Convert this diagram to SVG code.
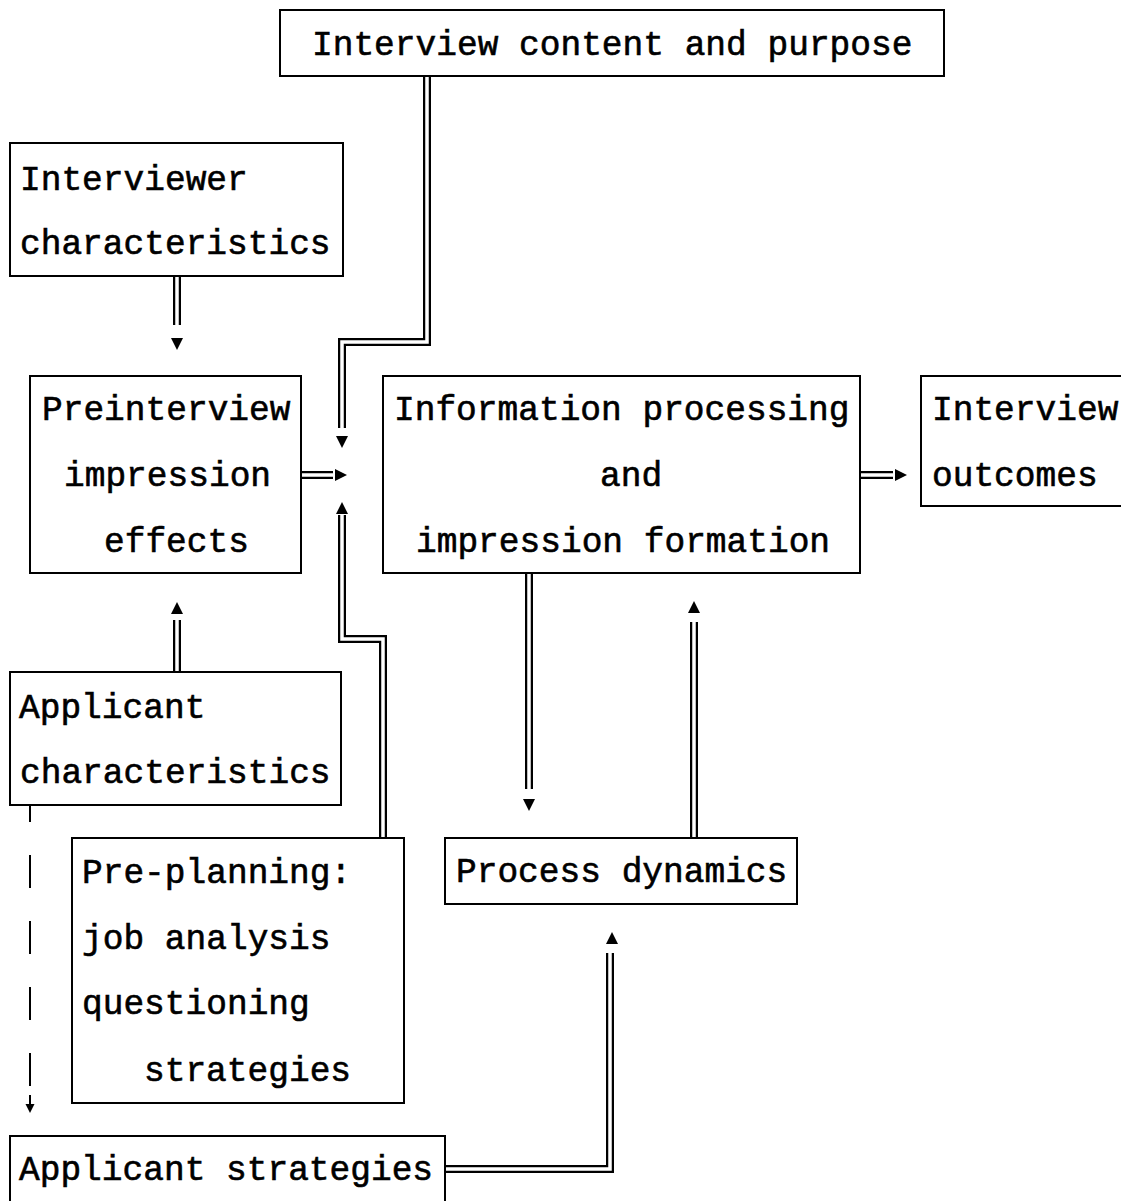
<svg xmlns="http://www.w3.org/2000/svg" xmlns:xlink="http://www.w3.org/1999/xlink" width="1121" height="1201" viewBox="0 0 1121 1201">
<style>
.box{fill:#fff;stroke:#000;stroke-width:2}
.t{font-family:"Liberation Mono","Courier New",monospace;font-size:34.5px;fill:#000;stroke:#000;stroke-width:0.6}
.o{fill:none;stroke:#000;stroke-width:8;stroke-linejoin:miter}
.i{fill:none;stroke:#fff;stroke-width:3.5;stroke-linejoin:miter}
.dash{fill:none;stroke:#000;stroke-width:2}
</style>
<defs>
<path id="ah" d="M-6,0 L6,0 L0,12 Z" fill="#000"/>
<path id="c1" d="M427,76 V342 H342 V428"/>
<path id="c2" d="M383,838 V639 H342 V515"/>
<path id="c3" d="M301,475 H333"/>
<path id="c4" d="M177,276 V325"/>
<path id="c5" d="M177,672 V620"/>
<path id="c6" d="M529,573 V789"/>
<path id="c7" d="M694,838 V622"/>
<path id="c8" d="M445,1169 H610 V953"/>
<path id="c9" d="M860,475 H893"/>
</defs>
<rect width="1121" height="1201" fill="#fff"/>
<g id="connectors">
<use href="#c1" class="o"/><use href="#c1" class="i"/>
<use href="#c2" class="o"/><use href="#c2" class="i"/>
<use href="#c3" class="o"/><use href="#c3" class="i"/>
<use href="#c4" class="o"/><use href="#c4" class="i"/>
<use href="#c5" class="o"/><use href="#c5" class="i"/>
<use href="#c6" class="o"/><use href="#c6" class="i"/>
<use href="#c7" class="o"/><use href="#c7" class="i"/>
<use href="#c8" class="o"/><use href="#c8" class="i"/>
<use href="#c9" class="o"/><use href="#c9" class="i"/>
<use href="#ah" transform="translate(342,436)"/>
<use href="#ah" transform="translate(342,514) rotate(180)"/>
<use href="#ah" transform="translate(335,475) rotate(-90)"/>
<use href="#ah" transform="translate(177,338)"/>
<use href="#ah" transform="translate(177,614) rotate(180)"/>
<use href="#ah" transform="translate(529,799)"/>
<use href="#ah" transform="translate(694,613) rotate(180)"/>
<use href="#ah" transform="translate(612,944) rotate(180)"/>
<use href="#ah" transform="translate(895,475) rotate(-90)"/>
<path class="dash" d="M30,805 V1087" stroke-dasharray="33 33" stroke-dashoffset="16"/>
<path class="dash" d="M30,1095 V1106"/>
<path d="M25.5,1104 L34.5,1104 L30,1113 Z" fill="#000"/>
</g>
<g id="n-content"><rect class="box" x="280" y="10" width="664" height="66"/><text class="t" x="312" y="55">Interview content and purpose</text></g>
<g id="n-interviewer"><rect class="box" x="10" y="143" width="333" height="133"/><text class="t" x="20" y="190">Interviewer</text><text class="t" x="20" y="254">characteristics</text></g>
<g id="n-preinterview"><rect class="box" x="30" y="376" width="271" height="197"/><text class="t" x="42" y="420">Preinterview</text><text class="t" x="64" y="486">impression</text><text class="t" x="104" y="552">effects</text></g>
<g id="n-info"><rect class="box" x="383" y="376" width="477" height="197"/><text class="t" x="394" y="420">Information processing</text><text class="t" x="600" y="486">and</text><text class="t" x="416" y="552">impression formation</text></g>
<g id="n-outcomes"><rect class="box" x="921" y="376" width="210" height="130"/><text class="t" x="932" y="420">Interview</text><text class="t" x="932" y="486">outcomes</text></g>
<g id="n-applicant"><rect class="box" x="10" y="672" width="331" height="133"/><text class="t" x="19" y="718">Applicant</text><text class="t" x="20" y="783">characteristics</text></g>
<g id="n-preplanning"><rect class="box" x="72" y="838" width="332" height="265"/><text class="t" x="82" y="883">Pre-planning:</text><text class="t" x="82" y="949">job analysis</text><text class="t" x="82" y="1014">questioning</text><text class="t" x="144" y="1081">strategies</text></g>
<g id="n-process"><rect class="box" x="445" y="838" width="352" height="66"/><text class="t" x="456" y="882">Process dynamics</text></g>
<g id="n-strategies"><rect class="box" x="10" y="1136" width="435" height="75"/><text class="t" x="19" y="1180">Applicant strategies</text></g>
</svg>
